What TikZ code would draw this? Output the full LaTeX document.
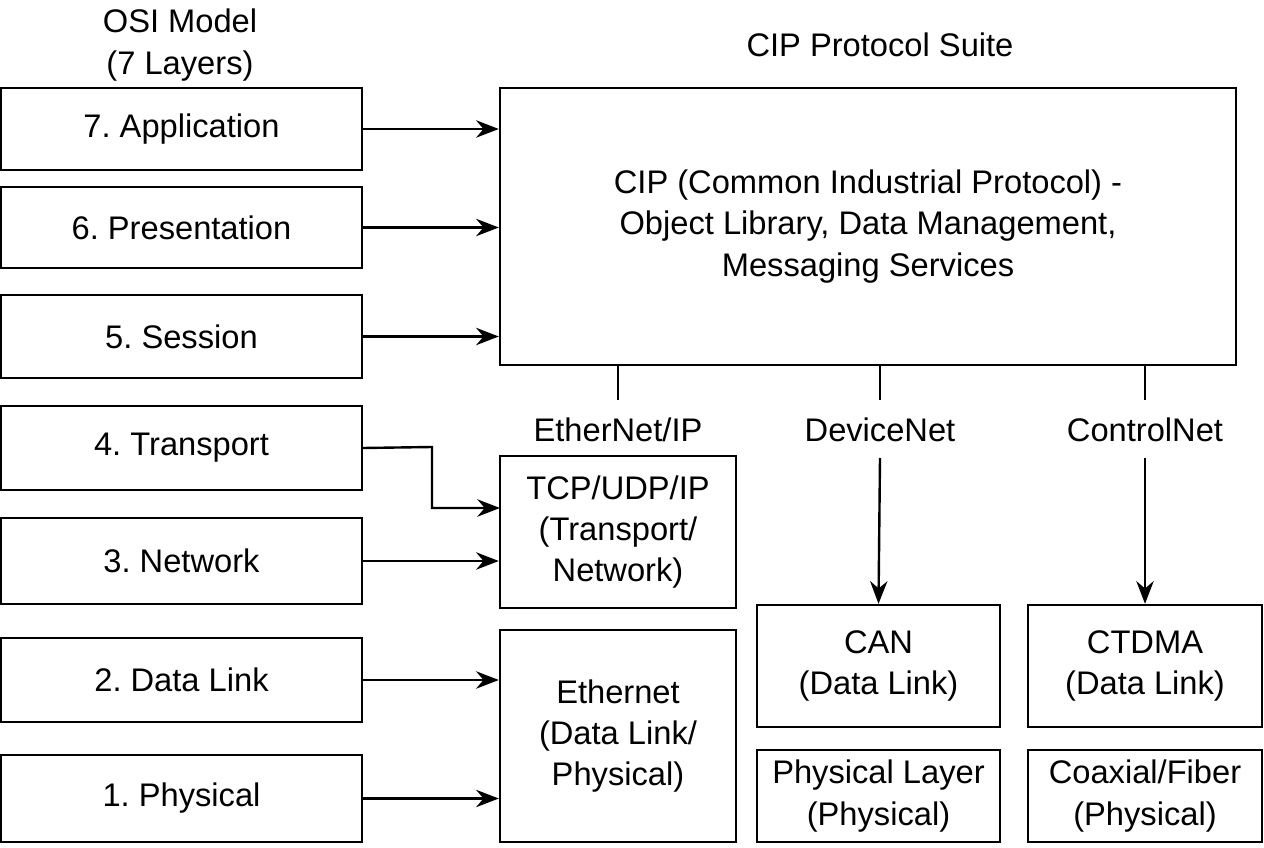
\documentclass[tikz,border=0pt]{standalone}
\usepackage{fontspec}
\setmainfont{Liberation Sans}
\usetikzlibrary{arrows.meta}
\begin{document}
\frenchspacing
\begin{tikzpicture}[x=0.75pt,y=-0.75pt,
  box/.style={draw,line width=1.8pt,align=center,font=\fontsize{24.5}{31}\selectfont,inner sep=0pt},
  lbl/.style={align=center,font=\fontsize{24.5}{31}\selectfont,inner sep=0pt},
  arr/.style={line width=1.8pt,-{Stealth[length=17pt,width=13pt]}},
  ln/.style={line width=1.8pt}]
\useasboundingbox (0,0) rectangle (1264,848);
\newcommand\bx[6]{\node[box,minimum width={(#3-#1)*0.75pt},minimum height={(#4-#2)*0.75pt}] (#5) at ({(#1+#3)/2},{(#2+#4)/2}) {#6};}
\bx{1}{88}{362}{170}{l7}{7. Application}
\bx{1}{187}{362}{268}{l6}{6. Presentation}
\bx{1}{295}{362}{378}{l5}{5. Session}
\bx{1}{406}{362}{490}{l4}{4. Transport}
\bx{1}{518}{362}{604}{l3}{3. Network}
\bx{1}{638}{362}{722}{l2}{2. Data Link}
\bx{1}{755}{362}{842}{l1}{1. Physical}
\bx{500}{88}{1236}{365}{cip}{CIP (Common Industrial Protocol) -\\Object Library, Data Management,\\Messaging Services}
\bx{500}{456}{736}{608}{tcp}{TCP/UDP/IP\\(Transport/\\Network)}
\bx{500}{630}{736}{842}{eth}{Ethernet\\(Data Link/\\Physical)}
\bx{757}{605}{1000}{727}{can}{CAN\\(Data Link)}
\bx{1028}{605}{1262}{727}{ctd}{CTDMA\\(Data Link)}
\bx{757}{750}{1000}{842}{phy}{Physical Layer\\(Physical)}
\bx{1028}{750}{1262}{842}{cox}{Coaxial/Fiber\\(Physical)}
\node[lbl] (osi) at (180,45) {OSI Model\\(7 Layers)};
\node[lbl] (suite) at (880,45) {CIP Protocol Suite};
\node[lbl] (en) at (618,430) {EtherNet/IP};
\node[lbl] (dn) at (880,430) {DeviceNet};
\node[lbl] (cn) at (1145,430) {ControlNet};
\draw[arr] (l7.east) -- (l7.east -| cip.west);
\draw[arr] (l6.east) -- (l6.east -| cip.west);
\draw[arr] (l5.east) -- (l5.east -| cip.west);
\draw[arr] (l4.east) -- (432,447) -- (432,508) -- (500,508);
\draw[arr] (l3.east) -- (l3.east -| tcp.west);
\draw[arr] (l2.east) -- (l2.east -| eth.west);
\draw[arr] (l1.east) -- (l1.east -| eth.west);
\draw[ln] (cip.south -| en) -- (618,400);
\draw[ln] (cip.south -| dn) -- (880,400);
\draw[ln] (cip.south -| cn) -- (1145,400);
\draw[arr] (880,458) -- (can.north);
\draw[arr] (1145,458) -- (ctd.north -| cn);
\end{tikzpicture}
\end{document}
